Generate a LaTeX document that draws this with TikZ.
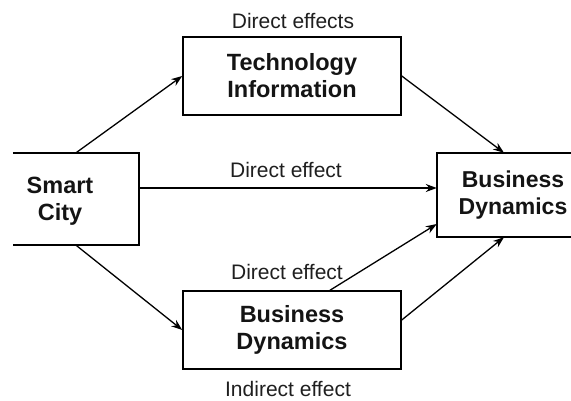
\documentclass[tikz,border=0pt]{standalone}
\usepackage{fontspec}
\setmainfont{Liberation Sans}
\usetikzlibrary{arrows.meta}
\begin{document}
\begin{tikzpicture}[x=1pt,y=-1pt,
  box/.style={draw=black,line width=1.5pt,minimum width=#1,inner sep=0pt},
  ttl/.style={font=\fontsize{23.5}{27}\selectfont\bfseries,text=black!92,align=center},
  lbl/.style={font=\fontsize{21}{24}\selectfont,text=black!88},
  conn/.style={line width=1.3pt,-{Stealth[length=11pt,width=8pt]}}]
\useasboundingbox (0,0) rectangle (571,401);
% Smart City (open on left)
\node[minimum width=126pt,minimum height=92pt,inner sep=0pt] (smartbox) at (76,199) {};
\draw[line width=1.5pt] (smartbox.north west) -- (smartbox.north east) -- (smartbox.south east) -- (smartbox.south west);
\node[ttl] (smart) at (60,201) {Smart\\City};
% Right box (open on right)
\node[minimum width=134pt,minimum height=84pt,inner sep=0pt] (rightbox) at (504,195) {};
\draw[line width=1.5pt] (rightbox.north east) -- (rightbox.north west) -- (rightbox.south west) -- (rightbox.south east);
\node[ttl,font=\fontsize{23}{27}\selectfont\bfseries] (right) at (513,195) {Business\\Dynamics};
% Technology Information
\node[box=218pt,minimum height=78pt,ttl] (tech) at (292,76) {Technology\\Information};
% Bottom Business Dynamics
\node[box=218pt,minimum height=78pt,ttl] (bottom) at (292,330) {Business\\Dynamics};
% labels
\node[lbl] (l1) at (293,21) {Direct effects};
\node[lbl] (l2) at (286,170) {Direct effect};
\node[lbl] (l3) at (287,272) {Direct effect};
\node[lbl] (l4) at (288,389) {Indirect effect};
% connectors
\draw[conn] (smartbox.north) -- (tech.west);
\draw[conn] ([yshift=11pt]smartbox.east) -- ([yshift=7pt]rightbox.west);
\draw[conn] (smartbox.south) -- (bottom.west);
\draw[conn] (tech.east) -- (rightbox.north);
\draw[conn] ([xshift=38pt]bottom.north) -- ([yshift=-29pt]rightbox.west);
\draw[conn] ([yshift=10pt]bottom.east) -- (rightbox.south);
\end{tikzpicture}
\end{document}
